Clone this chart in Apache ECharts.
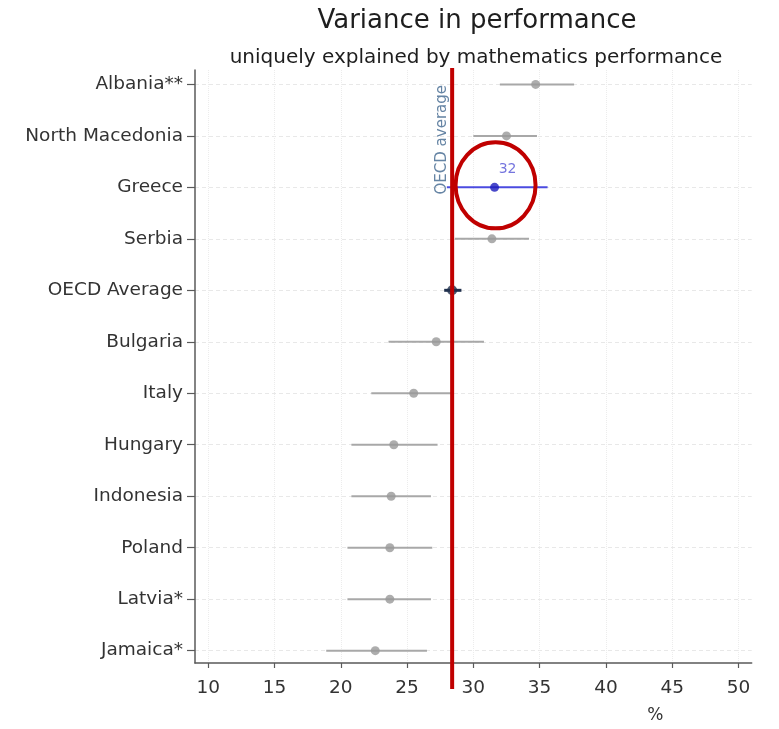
<!DOCTYPE html>
<html>
<head>
<meta charset="utf-8">
<script src="https://cdn.jsdelivr.net/npm/echarts@6/dist/echarts.min.js"></script>
<style>
  html, body { margin: 0; padding: 0; background: #ffffff; }
  #chart { width: 779px; height: 729px; }
</style>
</head>
<body>
<div id="chart"></div>
<script>
// Countries listed top to bottom
const countries = ['Albania**', 'North Macedonia', 'Greece', 'Serbia', 'OECD Average', 'Bulgaria',
  'Italy', 'Hungary', 'Indonesia', 'Poland', 'Latvia*', 'Jamaica*'];
// Share of variance uniquely explained (%) with confidence bounds
const estimates   = [34.7, 32.5, 31.6, 31.4, 28.4, 27.2, 25.5, 24.0, 23.8, 23.7, 23.7, 22.6];
const lowerBounds = [32.0, 30.0, 28.0, 28.6, 27.8, 23.6, 22.3, 20.8, 20.8, 20.5, 20.5, 18.9];
const upperBounds = [37.6, 34.8, 35.6, 34.2, 29.1, 30.8, 28.5, 27.3, 26.8, 26.9, 26.8, 26.5];
const xTicks = [10, 15, 20, 25, 30, 35, 40, 45, 50];
const highlighted = 'Greece';
const averageRow = 'OECD Average';

const FONT = 'DejaVu Sans';
const n = countries.length;
const rowPos = i => n - 1 - i;
const yTicks = countries.map((_, i) => i);

const GREY_LINE = '#a8a8a8', GREY_DOT = '#999999';
const BLUE_LINE = '#4b4be0', BLUE_DOT = '#1c1cbc';
const NAVY = '#1f2f4c';

function kindOf(name) {
  return name === highlighted ? 1 : (name === averageRow ? 2 : 0);
}

const barData = countries.map((c, i) => [lowerBounds[i], upperBounds[i], rowPos(i), kindOf(c)]);
const dotData = countries.map((c, i) => {
  const k = kindOf(c);
  return {
    value: [estimates[i], rowPos(i)],
    symbolSize: k === 2 ? 10 : 9,
    itemStyle: { color: k === 1 ? BLUE_DOT : (k === 2 ? NAVY : GREY_DOT) },
    label: k === 1 ? {
      show: true, position: 'top', offset: [13, -2],
      formatter: p => Math.round(p.value[0]).toString(),
      color: '#5252d6', fontSize: 14, fontFamily: FONT
    } : { show: false }
  };
});
const oecdValue = estimates[countries.indexOf(averageRow)];

const chart = echarts.init(document.getElementById('chart'), null, { renderer: 'canvas' });
chart.setOption({
  backgroundColor: '#ffffff',
  animation: false,
  title: [
    { text: 'Variance in performance', left: 472, top: 3, textAlign: 'center',
      textStyle: { fontSize: 26, fontWeight: 'normal', color: '#1e1e1e', fontFamily: FONT } },
    { text: 'uniquely explained by mathematics performance', left: 471, top: 43, textAlign: 'center',
      textStyle: { fontSize: 20, fontWeight: 'normal', color: '#1e1e1e', fontFamily: FONT } }
  ],
  grid: { left: 195, right: 27.3, top: 70, bottom: 65, containLabel: false },
  xAxis: {
    type: 'value', min: 9, max: 51,
    name: '%', nameLocation: 'middle', nameGap: 44,
    nameTextStyle: { fontSize: 17, color: '#333', fontFamily: FONT, padding: [0, 0, 0, 364] },
    axisLine: { show: true, onZero: false, lineStyle: { color: '#5a5a5a', width: 1.5 } },
    axisTick: { show: true, customValues: xTicks, length: 5, lineStyle: { color: '#5a5a5a', width: 1.2 } },
    axisLabel: { customValues: xTicks, fontSize: 18.5, color: '#333', fontFamily: FONT, margin: 16 },
    splitLine: { show: true, lineStyle: { color: '#ececec', width: 1, type: 'dotted' } }
  },
  yAxis: {
    type: 'value', min: -0.24, max: 11.28,
    axisLine: { show: true, onZero: false, lineStyle: { color: '#5a5a5a', width: 1.5 } },
    axisTick: { show: true, customValues: yTicks, length: 8, lineStyle: { color: '#5a5a5a', width: 1.2 } },
    axisLabel: { customValues: yTicks, formatter: v => countries[n - 1 - Math.round(v)],
      fontSize: 18.5, color: '#333', fontFamily: FONT, margin: 12 },
    splitLine: { show: true, lineStyle: { color: '#e8e8e8', width: 1, type: [4, 3] } }
  },
  series: [
    {
      name: 'interval', type: 'custom', z: 3,
      encode: { x: [0, 1], y: 2 },
      data: barData,
      renderItem: (params, api) => {
        const a = api.coord([api.value(0), api.value(2)]);
        const b = api.coord([api.value(1), api.value(2)]);
        const k = api.value(3);
        return {
          type: 'line',
          shape: { x1: a[0], y1: a[1], x2: b[0], y2: b[1] },
          style: { stroke: k === 1 ? BLUE_LINE : (k === 2 ? NAVY : GREY_LINE), lineWidth: k === 2 ? 3 : 2 }
        };
      }
    },
    {
      name: 'estimate', type: 'scatter', z: 4, symbol: 'circle',
      data: dotData,
      markLine: {
        silent: true, symbol: 'none', z: 2,
        lineStyle: { color: '#a9bfd6', width: 1.5, type: 'solid' },
        label: { show: true, position: 'insideEndTop', formatter: 'OECD average',
          color: '#6584a4', fontSize: 15, fontFamily: FONT, distance: [15, 3] },
        data: [{ xAxis: oecdValue }]
      }
    }
  ]
});

// Red emphasis marks: a rule at the OECD average and a ring around the highlighted country
const ruleTop = chart.convertToPixel({ gridIndex: 0 }, [oecdValue, 11.28]);
const ruleBottom = chart.convertToPixel({ gridIndex: 0 }, [oecdValue, -0.24]);
const hiIndex = countries.indexOf(highlighted);
const ringCenter = chart.convertToPixel({ gridIndex: 0 }, [estimates[hiIndex], rowPos(hiIndex)]);
chart.setOption({
  graphic: [
    { type: 'line', z: 100, silent: true,
      shape: { x1: ruleTop[0], y1: ruleTop[1] - 2, x2: ruleBottom[0], y2: ruleBottom[1] + 26 },
      style: { stroke: '#c00000', lineWidth: 4 } },
    { type: 'ellipse', z: 100, silent: true,
      shape: { cx: ringCenter[0] + 1, cy: ringCenter[1] - 2, rx: 40, ry: 43 },
      style: { stroke: '#c00000', lineWidth: 4, fill: null } }
  ]
});
</script>
</body>
</html>
